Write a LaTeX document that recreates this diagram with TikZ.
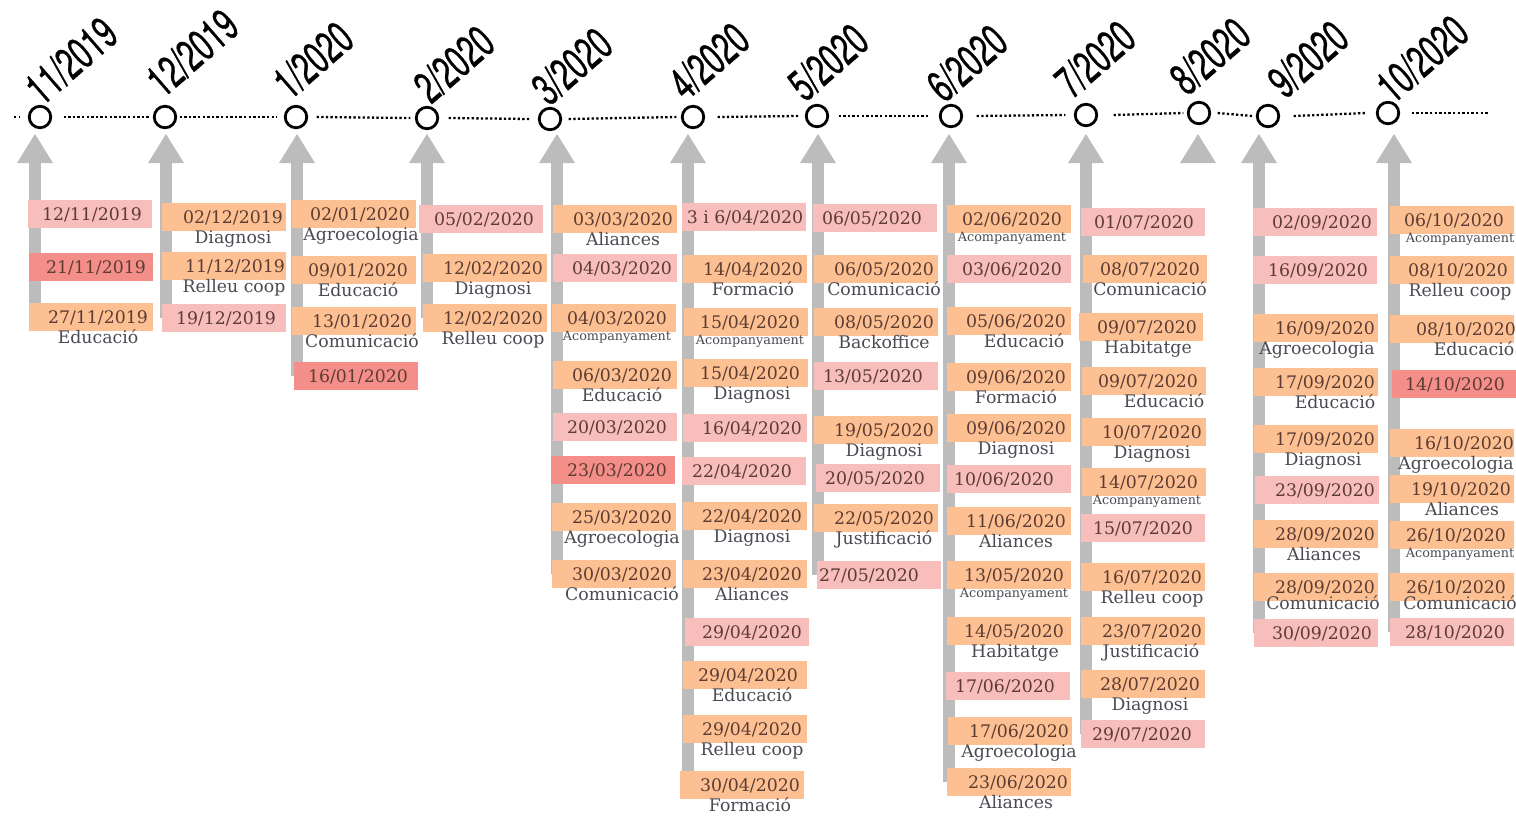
\documentclass[tikz,border=0pt]{standalone}
\usepackage{fontspec}
\setmainfont{DejaVu Serif}
\newfontfamily\monthfont[FakeStretch=0.64,FakeBold=0.6]{TeX Gyre Heros}
\definecolor{cor}{RGB}{252,192,146}
\definecolor{cpk}{RGB}{248,190,188}
\definecolor{crd}{RGB}{244,142,136}
\definecolor{carr}{RGB}{188,188,188}
\definecolor{datec}{RGB}{92,60,51}
\definecolor{subc}{RGB}{74,74,82}
\tikzset{
 ebox/.style={rectangle, inner sep=0pt, minimum width=124pt, minimum height=28pt, draw=none},
 datet/.style={anchor=base, inner sep=0pt, text=datec, font=\fontsize{17.3}{20}\selectfont},
 subt/.style={anchor=base, inner sep=0pt, text=subc, font=\fontsize{17.3}{20}\selectfont},
 subs/.style={anchor=base, inner sep=0pt, text=subc, font=\fontsize{12.8}{15}\selectfont},
 mcirc/.style={circle, draw=black, line width=2.8pt, minimum size=21.5pt, inner sep=0pt, fill=white},
 mlab/.style={anchor=base west, rotate=41, inner sep=0pt, font=\monthfont\fontsize{45}{47}\selectfont},
 dotline/.style={line width=2.3pt, dash pattern=on 2.3pt off 2.3pt},
}
\newcommand\ev[6]{\node[ebox,fill=#2] (#1) at (#3,#4) {};\node[datet] (#1d) at (#5,#4+6.5) {#6};}
\newcommand\sbl[5]{\node[#5] (#1s) at (#2,#3+26) {#4};}
\newcommand\sbs[4]{\node[subs] (#1s) at (#2,#3+22) {#4};}
\newcommand\garrow[2]{%
 \fill[carr] (#1-6,160) rectangle (#1+6,#2);
 \fill[carr] (#1,134) -- (#1+18,163) -- (#1-18,163) -- cycle;}
\begin{document}
\begin{tikzpicture}[x=1pt,y=-1pt]
\useasboundingbox (0,0) rectangle (1516,815);
\clip (0,0) rectangle (1516,815);
% timeline circles
\node[mcirc] (m1) at (40,117) {};
\node[mcirc] (m2) at (165,117) {};
\node[mcirc] (m3) at (296,117) {};
\node[mcirc] (m4) at (427,118) {};
\node[mcirc] (m5) at (550,119) {};
\node[mcirc] (m6) at (693,117) {};
\node[mcirc] (m7) at (817,116) {};
\node[mcirc] (m8) at (951,116) {};
\node[mcirc] (m9) at (1086,115) {};
\node[mcirc] (m10) at (1199,113) {};
\node[mcirc] (m11) at (1268,116) {};
\node[mcirc] (m12) at (1388,113) {};
\coordinate (lstart) at (14,117);
\coordinate (lend) at (1488,113);
\draw[dotline] (lstart) -- ([xshift=-7.5pt]m1.west);
\draw[dotline] ([xshift=11.5pt]m1.east) -- ([xshift=-2.5pt]m2.west);
\draw[dotline] ([xshift=2.5pt]m2.east) -- ([xshift=-7.5pt]m3.west);
\draw[dotline] ([xshift=8.5pt]m3.east) -- ([xshift=-4.5pt]m4.west);
\draw[dotline] ([xshift=9.5pt]m4.east) -- ([xshift=-7.5pt]m5.west);
\draw[dotline] ([xshift=6.5pt]m5.east) -- ([xshift=-4.5pt]m6.west);
\draw[dotline] ([xshift=12.5pt]m6.east) -- ([xshift=-6.5pt]m7.west);
\draw[dotline] ([xshift=9.5pt]m7.east) -- ([xshift=-8.5pt]m8.west);
\draw[dotline] ([xshift=13.5pt]m8.east) -- ([xshift=-8.5pt]m9.west);
\draw[dotline] ([xshift=15.5pt]m9.east) -- ([xshift=-3.5pt]m10.west);
\draw[dotline] ([xshift=6.5pt]m10.east) -- ([xshift=-3.5pt]m11.west);
\draw[dotline] ([xshift=13.5pt]m11.east) -- ([xshift=-9.5pt]m12.west);
\draw[dotline] ([xshift=11.5pt]m12.east) -- (lend);
% month labels
\node[mlab] (l1) at (42,107) {11/2019};
\node[mlab] (l2) at (163,99) {12/2019};
\node[mlab] (l3) at (290,101) {1/2020};
\node[mlab] (l4) at (431,105) {2/2020};
\node[mlab] (l5) at (549,107) {3/2020};
\node[mlab] (l6) at (686,102) {4/2020};
\node[mlab] (l7) at (805,103) {5/2020};
\node[mlab] (l8) at (944,104) {6/2020};
\node[mlab] (l9) at (1072,100) {7/2020};
\node[mlab] (l10) at (1187,97) {8/2020};
\node[mlab] (l11) at (1285,100) {9/2020};
\node[mlab] (l12) at (1393,105) {10/2020};
% arrows
\garrow{35}{318}
\garrow{166}{318}
\garrow{297}{376}
\garrow{427}{318}
\garrow{557}{574}
\garrow{688}{785}
\garrow{818}{575}
\garrow{949}{782}
\garrow{1086}{734}
\fill[carr] (1198,134) -- (1216,163) -- (1180,163) -- cycle;
\garrow{1259}{633}
\garrow{1394}{632}
% col 11/2019
\ev{a1}{cpk}{90}{214}{92}{12/11/2019}
\ev{a2}{crd}{91}{267}{96}{21/11/2019}
\ev{a3}{cor}{91}{317}{98}{27/11/2019} \sbl{a3}{98}{317}{Educació}{subt}
% col 12/2019
\ev{b1}{cor}{224}{217}{233}{02/12/2019} \sbl{b1}{233}{217}{Diagnosi}{subt}
\ev{b2}{cor}{224}{266}{235}{11/12/2019} \sbl{b2}{234}{266}{Relleu coop}{subt}
\ev{b3}{cpk}{224}{318}{226}{19/12/2019}
% col 1/2020
\ev{c1}{cor}{354}{214}{360}{02/01/2020} \sbl{c1}{361}{214}{Agroecologia}{subt}
\ev{c2}{cor}{354}{270}{358}{09/01/2020} \sbl{c2}{358}{270}{Educació}{subt}
\ev{c3}{cor}{354}{321}{362}{13/01/2020} \sbl{c3}{362}{321}{Comunicació}{subt}
\ev{c4}{crd}{356}{376}{358}{16/01/2020}
% col 2/2020
\ev{d1}{cpk}{481}{219}{484}{05/02/2020}
\ev{d2}{cor}{485}{268}{493}{12/02/2020} \sbl{d2}{493}{268}{Diagnosi}{subt}
\ev{d3}{cor}{485}{318}{493}{12/02/2020} \sbl{d3}{493}{318}{Relleu coop}{subt}
% col 3/2020
\ev{e1}{cor}{615}{219}{623}{03/03/2020} \sbl{e1}{623}{219}{Aliances}{subt}
\ev{e2}{cpk}{615}{268}{622}{04/03/2020}
\ev{e3}{cor}{614}{318}{617}{04/03/2020} \sbs{e3}{617}{318}{Acompanyament}
\ev{e4}{cor}{615}{375}{622}{06/03/2020} \sbl{e4}{622}{375}{Educació}{subt}
\ev{e5}{cpk}{615}{427}{617}{20/03/2020}
\ev{e6}{crd}{613}{470}{617}{23/03/2020}
\ev{e7}{cor}{614}{517}{622}{25/03/2020} \sbl{e7}{622}{517}{Agroecologia}{subt}
\ev{e8}{cor}{614}{574}{622}{30/03/2020} \sbl{e8}{622}{574}{Comunicació}{subt}
% col 4/2020
\ev{f1}{cpk}{744}{217}{745}{3 i 6/04/2020}
\ev{f2}{cor}{745}{269}{753}{14/04/2020} \sbl{f2}{753}{269}{Formació}{subt}
\ev{f3}{cor}{746}{322}{750}{15/04/2020} \sbs{f3}{750}{322}{Acompanyament}
\ev{f4}{cor}{746}{373}{750}{15/04/2020} \sbl{f4}{752}{373}{Diagnosi}{subt}
\ev{f5}{cpk}{745}{428}{752}{16/04/2020}
\ev{f6}{cpk}{744}{471}{742}{22/04/2020}
\ev{f7}{cor}{745}{516}{752}{22/04/2020} \sbl{f7}{752}{516}{Diagnosi}{subt}
\ev{f8}{cor}{745}{574}{752}{23/04/2020} \sbl{f8}{752}{574}{Aliances}{subt}
\ev{f9}{cpk}{747}{632}{752}{29/04/2020}
\ev{f10}{cor}{745}{675}{748}{29/04/2020} \sbl{f10}{752}{675}{Educació}{subt}
\ev{f11}{cor}{745}{729}{752}{29/04/2020} \sbl{f11}{752}{729}{Relleu coop}{subt}
\ev{f12}{cor}{742}{785}{750}{30/04/2020} \sbl{f12}{750}{785}{Formació}{subt}
% col 5/2020
\ev{g1}{cpk}{875}{218}{872}{06/05/2020}
\ev{g2}{cor}{876}{269}{884}{06/05/2020} \sbl{g2}{884}{269}{Comunicació}{subt}
\ev{g3}{cor}{876}{322}{884}{08/05/2020} \sbl{g3}{884}{322}{Backoffice}{subt}
\ev{g4}{cpk}{876}{376}{873}{13/05/2020}
\ev{g5}{cor}{876}{430}{884}{19/05/2020} \sbl{g5}{884}{430}{Diagnosi}{subt}
\ev{g6}{cpk}{878}{478}{875}{20/05/2020}
\ev{g7}{cor}{876}{518}{884}{22/05/2020} \sbl{g7}{884}{518}{Justificació}{subt}
\ev{g8}{cpk}{879}{575}{869}{27/05/2020}
% col 6/2020
\ev{h1}{cor}{1009}{219}{1012}{02/06/2020} \sbs{h1}{1012}{219}{Acompanyament}
\ev{h2}{cpk}{1009}{269}{1012}{03/06/2020}
\ev{h3}{cor}{1009}{321}{1016}{05/06/2020} \sbl{h3}{1024}{321}{Educació}{subt}
\ev{h4}{cor}{1009}{377}{1016}{09/06/2020} \sbl{h4}{1016}{377}{Formació}{subt}
\ev{h5}{cor}{1009}{428}{1016}{09/06/2020} \sbl{h5}{1016}{428}{Diagnosi}{subt}
\ev{h6}{cpk}{1009}{479}{1004}{10/06/2020}
\ev{h7}{cor}{1009}{521}{1016}{11/06/2020} \sbl{h7}{1016}{521}{Aliances}{subt}
\ev{h8}{cor}{1009}{575}{1014}{13/05/2020} \sbs{h8}{1014}{575}{Acompanyament}
\ev{h9}{cor}{1009}{631}{1014}{14/05/2020} \sbl{h9}{1015}{631}{Habitatge}{subt}
\ev{h10}{cpk}{1008}{686}{1005}{17/06/2020}
\ev{h11}{cor}{1010}{731}{1019}{17/06/2020} \sbl{h11}{1019}{731}{Agroecologia}{subt}
\ev{h12}{cor}{1009}{782}{1018}{23/06/2020} \sbl{h12}{1016}{782}{Aliances}{subt}
% col 7/2020
\ev{i1}{cpk}{1143}{222}{1144}{01/07/2020}
\ev{i2}{cor}{1145}{269}{1150}{08/07/2020} \sbl{i2}{1150}{269}{Comunicació}{subt}
\ev{i3}{cor}{1141}{327}{1147}{09/07/2020} \sbl{i3}{1148}{327}{Habitatge}{subt}
\ev{i4}{cor}{1144}{381}{1148}{09/07/2020} \sbl{i4}{1164}{381}{Educació}{subt}
\ev{i5}{cor}{1144}{432}{1152}{10/07/2020} \sbl{i5}{1152}{432}{Diagnosi}{subt}
\ev{i6}{cor}{1144}{482}{1148}{14/07/2020} \sbs{i6}{1147}{482}{Acompanyament}
\ev{i7}{cpk}{1143}{528}{1143}{15/07/2020}
\ev{i8}{cor}{1143}{577}{1152}{16/07/2020} \sbl{i8}{1152}{577}{Relleu coop}{subt}
\ev{i9}{cor}{1143}{631}{1152}{23/07/2020} \sbl{i9}{1151}{631}{Justificació}{subt}
\ev{i10}{cor}{1143}{684}{1150}{28/07/2020} \sbl{i10}{1150}{684}{Diagnosi}{subt}
\ev{i11}{cpk}{1143}{734}{1142}{29/07/2020}
% col 9/2020
\ev{j1}{cpk}{1315}{222}{1322}{02/09/2020}
\ev{j2}{cpk}{1315}{270}{1318}{16/09/2020}
\ev{j3}{cor}{1316}{328}{1325}{16/09/2020} \sbl{j3}{1317}{328}{Agroecologia}{subt}
\ev{j4}{cor}{1316}{382}{1325}{17/09/2020} \sbl{j4}{1335}{382}{Educació}{subt}
\ev{j5}{cor}{1316}{439}{1325}{17/09/2020} \sbl{j5}{1323}{439}{Diagnosi}{subt}
\ev{j6}{cpk}{1317}{490}{1325}{23/09/2020}
\ev{j7}{cor}{1316}{534}{1325}{28/09/2020} \sbl{j7}{1324}{534}{Aliances}{subt}
\ev{j8}{cor}{1316}{587}{1325}{28/09/2020} \sbl{j8}{1323}{583}{Comunicació}{subt}
\ev{j9}{cpk}{1316}{633}{1322}{30/09/2020}
% col 10/2020
\ev{k1}{cor}{1452}{220}{1454}{06/10/2020} \sbs{k1}{1460}{220}{Acompanyament}
\ev{k2}{cor}{1452}{270}{1458}{08/10/2020} \sbl{k2}{1460}{270}{Relleu coop}{subt}
\ev{k3}{cor}{1452}{329}{1466}{08/10/2020} \sbl{k3}{1474}{329}{Educació}{subt}
\ev{k4}{crd}{1454}{384}{1455}{14/10/2020}
\ev{k5}{cor}{1452}{443}{1464}{16/10/2020} \sbl{k5}{1456}{443}{Agroecologia}{subt}
\ev{k6}{cor}{1452}{489}{1461}{19/10/2020} \sbl{k6}{1462}{489}{Aliances}{subt}
\ev{k7}{cor}{1452}{535}{1456}{26/10/2020} \sbs{k7}{1460}{535}{Acompanyament}
\ev{k8}{cor}{1452}{587}{1456}{26/10/2020} \sbl{k8}{1460}{583}{Comunicació}{subt}
\ev{k9}{cpk}{1452}{632}{1455}{28/10/2020}
\end{tikzpicture}
\end{document}
